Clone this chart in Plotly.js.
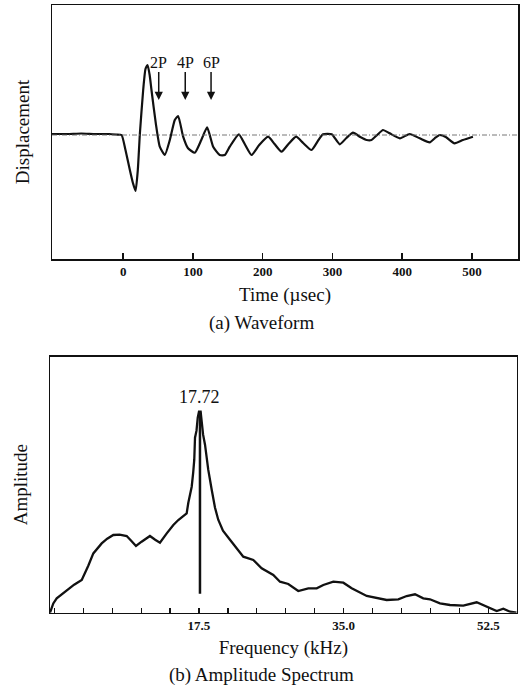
<!DOCTYPE html>
<html>
<head>
<meta charset="utf-8">
<script src="https://cdn.plot.ly/plotly-3.0.1.min.js"></script>
<style>html,body{margin:0;padding:0;background:#fff;}#chart{width:523px;height:689px;}</style>
</head>
<body>
<div id="chart"></div>
<script>
// ---- (a) Waveform ----
const waveTime = [-102, -80, -60, -40, -20, -10, -2.3, 3, 9.6, 14, 17.8, 21, 24, 28.7, 32, 35, 38, 40.6, 46.8, 52.5, 59.7, 66.9, 74, 78.8, 86, 93, 102.7, 112, 120.4, 129, 138.5, 145.7, 152.8, 165.8, 175, 184, 195, 207.8, 217, 227, 237, 248, 258, 270, 280, 286.5, 299, 310.5, 320, 329.5, 340, 349, 356, 364, 372.5, 382, 396.7, 410.7, 425, 439.4, 446.6, 453.7, 463, 475, 487, 501.4];
const waveDisp = [1, 1, 1.5, 1, 1, 0.5, 0, -14, -35, -48, -56, -35, 1.7, 45, 66, 70, 60, 45, 11.7, -11.7, -20, -5, 15, 19, -1.7, -13.3, -17.7, -5, 7.7, -11.7, -20, -20, -11.7, 0.7, -10, -20, -10, -1.7, -9, -16.7, -9, -1.7, -8, -15, -5, 0.7, 0.7, -9.3, -3, 2.3, -2, -5, -5, 0, 5, 1.7, -3.3, 1, -3.3, -7.3, -3.3, 0, -2.3, -8.3, -5, -1.7];
const timeTicks = [0, 100, 200, 300, 400, 500];
const peakLabels = ['2P', '4P', '6P'];
const peakTime = [51, 89, 126];

// ---- (b) Amplitude spectrum ----
const freq = [-0.52, -0.12, 0.29, 0.69, 1.5, 2.4, 3.32, 3.71, 4.11, 4.72, 5.73, 6.4, 7.14, 7.9, 8.76, 9.3, 9.88, 10.56, 11.57, 12.2, 12.78, 13.6, 14.4, 15.0, 15.4, 16.01, 16.21, 16.4, 16.62, 16.8, 16.93, 17.02, 17.2, 17.35, 17.5, 17.7, 17.85, 18.0, 18.23, 18.62, 19.04, 19.44, 19.83, 20.4, 21.25, 22.0, 22.86, 24.07, 25.08, 26.49, 27.3, 28.3, 29.51, 30.72, 31.74, 32.54, 33.75, 34.96, 35.97, 37.79, 38.99, 40.2, 41.61, 42.62, 43.63, 44.63, 45.44, 46.65, 47.86, 49.47, 51.09, 52.3, 53.51, 54.31, 55.12, 55.93];
const amp = [0, 9.3, 14.3, 17, 22.7, 28, 32.7, 39.3, 47, 59.3, 69.3, 74, 77.7, 78, 76.7, 72, 66.7, 71, 76.7, 73, 70, 79.3, 87.7, 92.7, 95, 99.3, 110, 118, 126, 140, 153, 175, 182, 195, 201, 201, 190, 178, 168, 143, 123, 105, 93, 82, 73, 65, 56, 52.7, 44.4, 37.7, 31, 28.7, 21.7, 24.4, 24.4, 27.7, 31, 30, 24.4, 16.7, 15, 12.7, 13.4, 16.7, 18.4, 14.4, 13.4, 9.4, 7.7, 7, 10.4, 6, 1.7, 4, 1, 0];
const peakFreq = 17.62;
const peakFreqLabel = '17.72';
const peakLineAmp = [19, 201];
const freqTicks = [17.5, 35.0, 52.5];
const freqTickText = ['17.5', '35.0', '52.5'];

const serif = 'Liberation Serif, Times New Roman, serif';

const traces = [
  {x: waveTime, y: waveDisp, type: 'scatter', mode: 'lines', xaxis: 'x', yaxis: 'y',
   line: {color: '#111', width: 2.2, shape: 'spline', smoothing: 0.5}, hoverinfo: 'skip'},
  {x: freq, y: amp, type: 'scatter', mode: 'lines', xaxis: 'x2', yaxis: 'y2',
   line: {color: '#111', width: 2.3, shape: 'linear'}, hoverinfo: 'skip'},
  {x: [peakFreq, peakFreq], y: peakLineAmp, type: 'scatter', mode: 'lines', xaxis: 'x2', yaxis: 'y2',
   line: {color: '#111', width: 2.5}, hoverinfo: 'skip'}
];

const W = 523, H = 689;
const axisCommon = {showline: true, linecolor: '#111', linewidth: 1.5, mirror: true,
  showgrid: false, zeroline: false, fixedrange: true, automargin: false};

const annotations = peakLabels.map((t, i) => ({
  x: peakTime[i], y: 35, xref: 'x', yref: 'y', text: t, showarrow: true,
  arrowhead: 2, arrowsize: 1.1, arrowwidth: 1.5, arrowcolor: '#111',
  ax: 0, ay: -38, standoff: 0, font: {family: serif, size: 16, color: '#111'}
}));
annotations.push({x: peakFreq, y: 216, xref: 'x2', yref: 'y2', text: peakFreqLabel, showarrow: false,
  font: {family: serif, size: 18, color: '#111'}});
annotations.push({x: 0.5, y: 1 - 323 / H, xref: 'paper', yref: 'paper', text: '(a) Waveform', showarrow: false,
  xanchor: 'center', yanchor: 'middle', font: {family: serif, size: 19, color: '#111'}});
annotations.push({x: 0.5, y: 1 - 675 / H, xref: 'paper', yref: 'paper', text: '(b) Amplitude Spectrum', showarrow: false,
  xanchor: 'center', yanchor: 'middle', font: {family: serif, size: 19, color: '#111'}});

const layout = {
  width: W, height: H, margin: {l: 0, r: 0, t: 0, b: 0},
  paper_bgcolor: '#fff', plot_bgcolor: '#fff', showlegend: false,
  font: {family: serif, color: '#111'},
  xaxis: Object.assign({}, axisCommon, {
    domain: [52 / W, 518 / W], range: [-102, 566], tickvals: timeTicks,
    ticks: 'inside', ticklen: 6, tickwidth: 1.5, tickcolor: '#111',
    tickfont: {family: serif, size: 13, color: '#111', weight: 'bold'},
    title: {text: 'Time (µsec)', standoff: 9, font: {family: serif, size: 19, color: '#111'}}
  }),
  yaxis: Object.assign({}, axisCommon, {
    domain: [1 - 259 / H, 1 - 5 / H], range: [-124, 130], showticklabels: false, ticks: '',
    title: {text: 'Displacement', standoff: 16, font: {family: serif, size: 19, color: '#111'}}
  }),
  xaxis2: Object.assign({}, axisCommon, {
    domain: [50 / W, 516.7 / W], range: [-0.52, 55.93], anchor: 'y2',
    tickvals: freqTicks, ticktext: freqTickText,
    ticks: 'inside', ticklen: 5, tickwidth: 1.2, tickcolor: '#111',
    minor: {dtick: 3.5, tick0: 0, ticks: 'inside', ticklen: 5, tickwidth: 1.2, tickcolor: '#111'},
    tickfont: {family: serif, size: 13, color: '#111', weight: 'bold'},
    title: {text: 'Frequency (kHz)', standoff: 9, font: {family: serif, size: 19, color: '#111'}}
  }),
  yaxis2: Object.assign({}, axisCommon, {
    domain: [1 - 612.7 / H, 1 - 356.7 / H], range: [0, 256], anchor: 'x2',
    showticklabels: false, ticks: '',
    title: {text: 'Amplitude', standoff: 16, font: {family: serif, size: 19, color: '#111'}}
  }),
  shapes: [{type: 'line', xref: 'x domain', yref: 'y', x0: 0, x1: 1, y0: 0, y1: 0,
    line: {color: '#666', width: 0.9, dash: '5px,2px,1px,2px'}}],
  annotations: annotations
};

Plotly.newPlot('chart', traces, layout, {staticPlot: true, displayModeBar: false});
</script>
</body>
</html>
